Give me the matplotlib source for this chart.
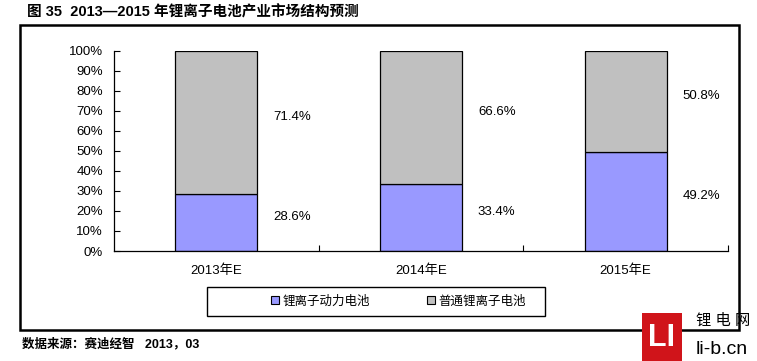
import numpy as np
import matplotlib.pyplot as plt
from matplotlib.patches import Rectangle

plt.rcParams['font.family'] = ['Liberation Sans', 'Noto Sans CJK SC', 'DejaVu Sans']

years = ['2013年E', '2014年E', '2015年E']
power = [28.6, 33.4, 49.2]      # 锂离子动力电池
normal = [71.4, 66.6, 50.8]     # 普通锂离子电池
series_names = ['锂离子动力电池', '普通锂离子电池']
yticks = [0, 10, 20, 30, 40, 50, 60, 70, 80, 90, 100]

W, H = 757, 361
fig = plt.figure(figsize=(W / 100, H / 100), dpi=100)

def px(x0, y0, x1, y1):
    # pixel box -> figure fraction rect
    return [x0 / W, 1 - y1 / H, (x1 - x0) / W, (y1 - y0) / H]

ax = fig.add_axes(px(114, 50.7, 728, 251))

x = np.arange(len(years))
ax.bar(x, power, width=0.4, color='#9999FF', edgecolor='black', linewidth=0.9)
ax.bar(x, normal, width=0.4, bottom=power, color='#C0C0C0', edgecolor='black', linewidth=0.9)

for i in range(len(years)):
    ax.annotate('%.1f%%' % power[i], (x[i] + 0.37, power[i] / 2), xytext=(0, 4),
                textcoords='offset points', ha='center', va='center', fontsize=9.5)
    ax.annotate('%.1f%%' % normal[i], (x[i] + 0.37, power[i] + normal[i] / 2), xytext=(0, 4),
                textcoords='offset points', ha='center', va='center', fontsize=9.5)

ax.set_xlim(-0.5, 2.5)
ax.set_ylim(0, 100)
ax.set_yticks(yticks)
ax.set_yticklabels(['%d%%' % v for v in yticks], fontsize=9.5)
ax.set_xticks(x)
ax.set_xticklabels(years, fontsize=9.5)
ax.set_xticks([0.5, 1.5, 2.5], minor=True)
ax.tick_params(axis='x', which='major', length=0, pad=10)
ax.tick_params(axis='x', which='minor', direction='in', length=4, width=0.8)
ax.tick_params(axis='y', direction='in', length=4, width=0.8, pad=8)
for s in ['top', 'right']:
    ax.spines[s].set_visible(False)
for s in ['left', 'bottom']:
    ax.spines[s].set_linewidth(0.9)

# outer frame and legend box
r = px(20, 25, 739, 330)
fig.patches.append(Rectangle(r[:2], r[2], r[3], transform=fig.transFigure,
                             fill=False, edgecolor='black', linewidth=1.8))
r = px(207, 287, 545, 316)
fig.patches.append(Rectangle(r[:2], r[2], r[3], transform=fig.transFigure,
                             fill=False, edgecolor='black', linewidth=1.0))

handles = [Rectangle((0, 0), 1, 1, facecolor='#9999FF', edgecolor='black', linewidth=0.8),
           Rectangle((0, 0), 1, 1, facecolor='#C0C0C0', edgecolor='black', linewidth=0.8)]
fig.legend(handles, series_names, loc='center left', bbox_to_anchor=(271 / W, 1 - 301.5 / H),
           ncol=2, frameon=False, fontsize=9, handlelength=0.6, handleheight=0.6,
           handletextpad=0.3, columnspacing=4.6, borderpad=0, borderaxespad=0)

fig.text(27 / W, 1 - 12 / H, '图 35  2013—2015 年锂离子电池产业市场结构预测', fontsize=10.5,
         fontweight='bold', va='center', ha='left')
fig.text(22 / W, 1 - 344 / H, '数据来源：赛迪经智   2013，03', fontsize=9,
         fontweight='bold', va='center', ha='left')

# li-b.cn mark in the corner
r = px(642, 313, 682, 361)
fig.patches.append(Rectangle(r[:2], r[2], r[3], transform=fig.transFigure,
                             facecolor='#D0141A', edgecolor='none'))
fig.text(662 / W, 1 - 338 / H, 'LI', color='white', fontsize=22, fontweight='bold',
         ha='center', va='center')
fig.text(696 / W, 1 - 321 / H, '锂 电 网', fontsize=11, ha='left', va='center')
fig.text(696 / W, 1 - 349 / H, 'li-b.cn', fontsize=14, ha='left', va='center')

fig.savefig('out.png', dpi=100)
